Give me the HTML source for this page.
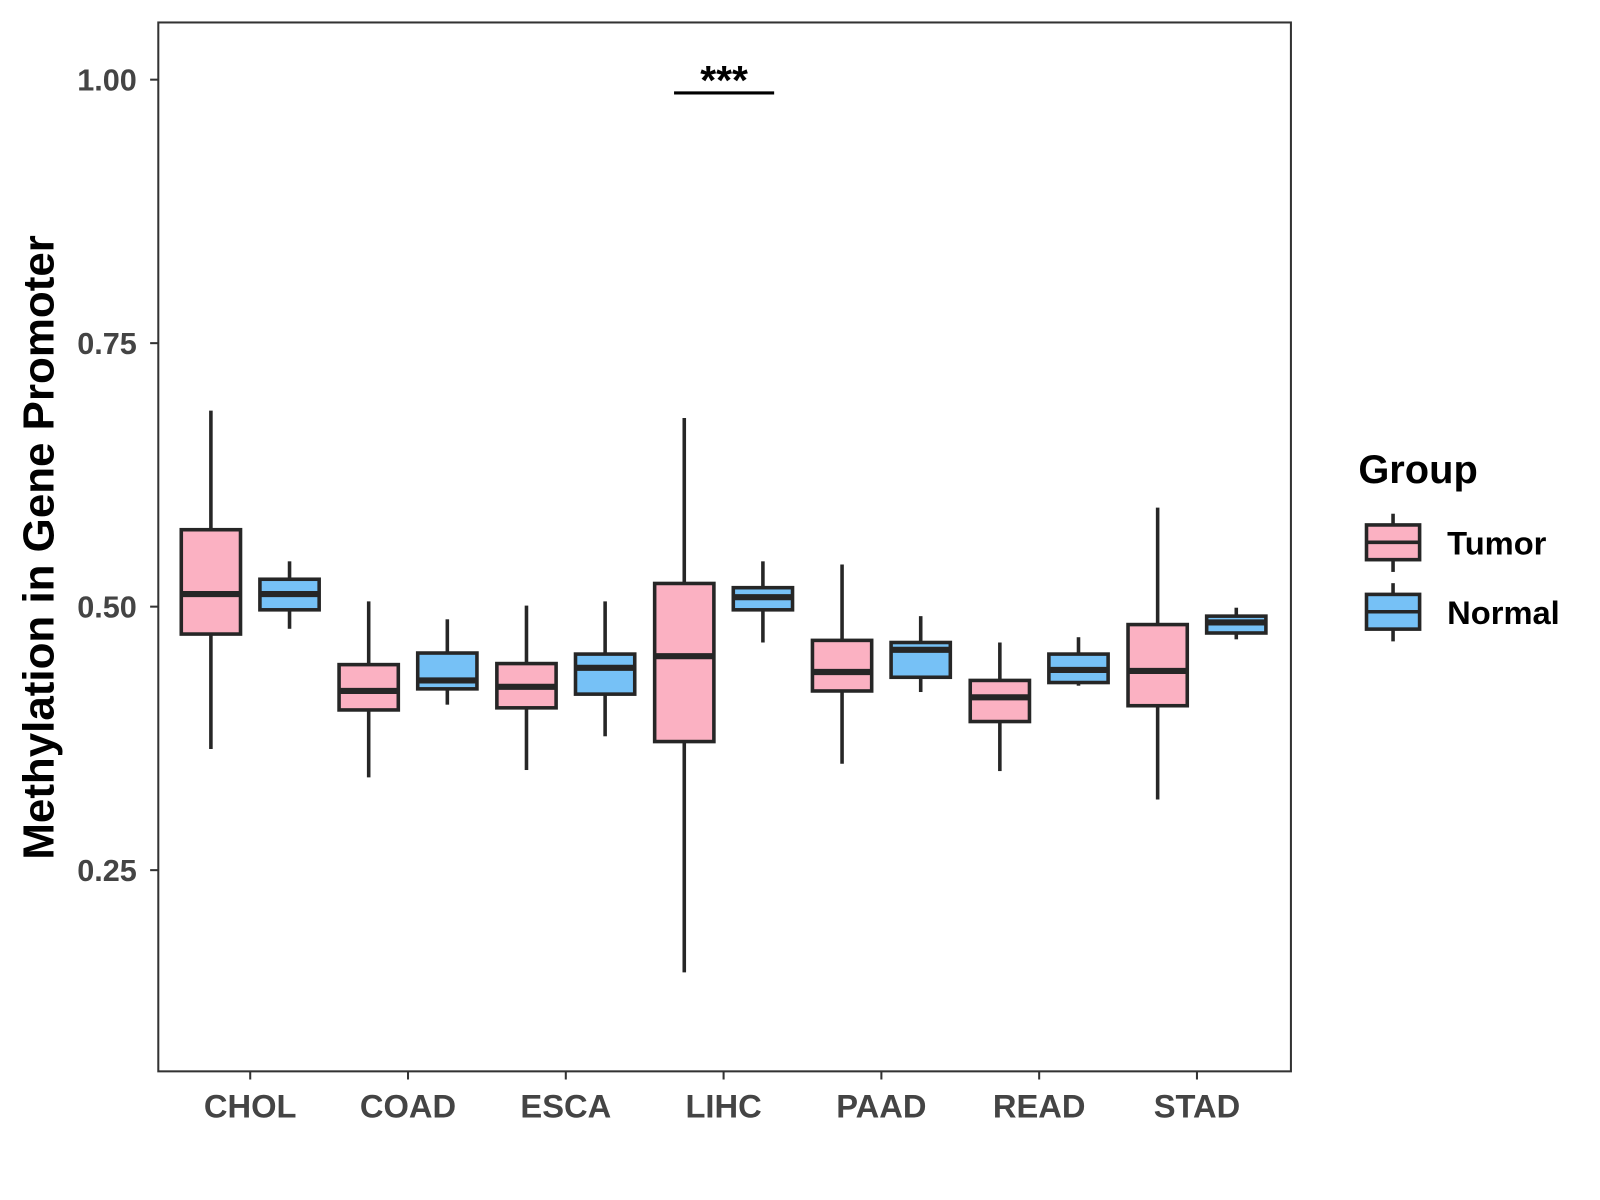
<!DOCTYPE html>
<html><head><meta charset="utf-8"><style>
html,body{margin:0;padding:0;background:#fff;}
svg{display:block;font-family:"Liberation Sans",Arial,sans-serif;font-weight:bold;}
</style></head><body>
<svg id="chart" width="1600" height="1200" viewBox="0 0 1600 1200">
<g transform="scale(1.0213)">
<rect x="155" y="22" width="1109" height="1027" fill="#fff" stroke="#333" stroke-width="2"/>
<g id="yaxis"></g>
<g id="xaxis"></g>
<g id="boxes"></g>
<text x="38" y="536" transform="rotate(-90 38 536)" text-anchor="middle" dominant-baseline="central" font-size="43" fill="#000">Methylation in Gene Promoter</text>
<line x1="660" y1="91" x2="758" y2="91" stroke="#000" stroke-width="3"/>
<text x="709" y="92" text-anchor="middle" font-size="40" fill="#000">***</text>
<g>
<text x="1330" y="473" font-size="39" fill="#000">Group</text>
<g>
<line x1="1364" y1="503" x2="1364" y2="560" stroke="#262626" stroke-width="3.5"/>
<rect x="1338" y="514" width="52" height="34" fill="#fbb1c2" stroke="#262626" stroke-width="3.5"/>
<line x1="1338" y1="531" x2="1390" y2="531" stroke="#262626" stroke-width="3.5"/>
<text x="1417" y="543" font-size="32" fill="#000">Tumor</text>
</g>
<g>
<line x1="1364" y1="571" x2="1364" y2="628" stroke="#262626" stroke-width="3.5"/>
<rect x="1338" y="582" width="52" height="34" fill="#76c1f6" stroke="#262626" stroke-width="3.5"/>
<line x1="1338" y1="599" x2="1390" y2="599" stroke="#262626" stroke-width="3.5"/>
<text x="1417" y="611" font-size="32" fill="#000">Normal</text>
</g>
</g>
</g>
</svg>
<script>
const categories = ["CHOL","COAD","ESCA","LIHC","PAAD","READ","STAD"];
// [whiskerLow, q1, median, q3, whiskerHigh]
const tumorStats = [
 [0.365,0.474,0.512,0.573,0.686],
 [0.338,0.402,0.420,0.445,0.505],
 [0.345,0.404,0.424,0.446,0.501],
 [0.153,0.372,0.453,0.522,0.679],
 [0.351,0.420,0.438,0.468,0.540],
 [0.344,0.391,0.414,0.430,0.466],
 [0.317,0.406,0.439,0.483,0.594]
];
const normalStats = [
 [0.479,0.497,0.512,0.526,0.543],
 [0.407,0.422,0.430,0.456,0.488],
 [0.377,0.417,0.442,0.455,0.505],
 [0.466,0.497,0.509,0.518,0.543],
 [0.419,0.433,0.459,0.466,0.491],
 [0.425,0.428,0.440,0.455,0.471],
 [0.469,0.475,0.485,0.491,0.499]
];
const yTicks = [0.25,0.50,0.75,1.00];
const yTickLabels = ["0.25","0.50","0.75","1.00"];

const NS="http://www.w3.org/2000/svg";
function y(v){return 78+(1-v)*1032;}
function xc(i){return 245+i*154.5;}
function mk(tag,attrs,parent){const e=document.createElementNS(NS,tag);for(const k in attrs)e.setAttribute(k,attrs[k]);parent.appendChild(e);return e;}

const ya=document.getElementById('yaxis');
yTicks.forEach((t,i)=>{
 const l=mk('line',{x1:147,x2:155,y1:y(t),y2:y(t),stroke:'#333','stroke-width':2},ya);
 
 
 const tx=mk('text',{x:134,y:y(t)+10.5,'text-anchor':'end','font-size':30,fill:'#444'},ya);
 tx.textContent=yTickLabels[i];
 
 
});
const xa=document.getElementById('xaxis');
categories.forEach((c,i)=>{
 const l=mk('line',{x1:xc(i),x2:xc(i),y1:1049,y2:1057,stroke:'#333','stroke-width':2},xa);
 
 
 const tx=mk('text',{x:xc(i),y:1094,'text-anchor':'middle','font-size':32,fill:'#444'},xa);
 tx.textContent=c;
 
 
});
const bg=document.getElementById('boxes');
function drawBox(s,cx,fill,name){
 const g=mk('g',{},bg);
 
 
 const hw=29,st='#262626';
 mk('line',{x1:cx,x2:cx,y1:y(s[4]),y2:y(s[3]),stroke:st,'stroke-width':3.5},g);
 mk('line',{x1:cx,x2:cx,y1:y(s[1]),y2:y(s[0]),stroke:st,'stroke-width':3.5},g);
 mk('rect',{x:cx-hw,y:y(s[3]),width:hw*2,height:y(s[1])-y(s[3]),fill:fill,stroke:st,'stroke-width':3.5},g);
 mk('line',{x1:cx-hw,x2:cx+hw,y1:y(s[2]),y2:y(s[2]),stroke:st,'stroke-width':6},g);
}
categories.forEach((c,i)=>{
 drawBox(tumorStats[i],xc(i)-38.5,'#fbb1c2','box-tumor-'+c.toLowerCase());
 drawBox(normalStats[i],xc(i)+38.5,'#76c1f6','box-normal-'+c.toLowerCase());
});
</script>
</body></html>
